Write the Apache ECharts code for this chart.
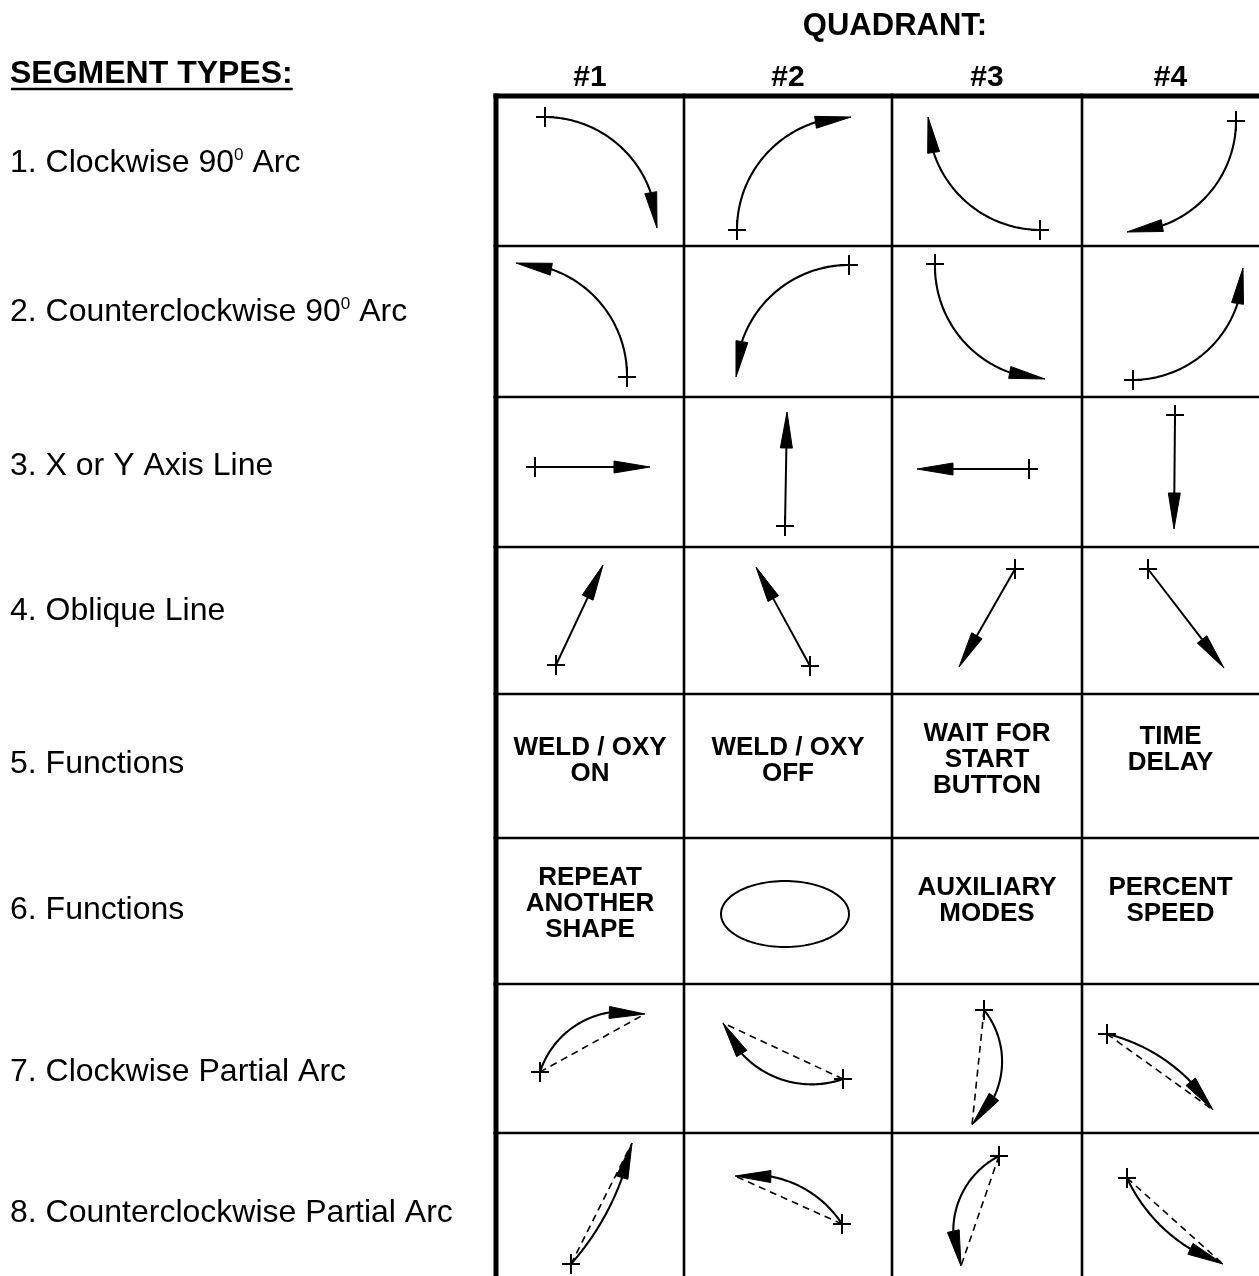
<!DOCTYPE html>
<html>
<head>
<meta charset="utf-8">
<script src="https://cdn.jsdelivr.net/npm/echarts@6/dist/echarts.min.js"></script>
<style>
html,body{margin:0;padding:0;background:#ffffff;}
#chart{width:1259px;height:1276px;}
</style>
</head>
<body>
<div id="chart"></div>
<script>
// ================= DATA =================
const title = 'QUADRANT:';
const quadrants = ['#1', '#2', '#3', '#4'];
const segmentHeading = 'SEGMENT TYPES:';
const segmentTypes = [
  '1. Clockwise 90⁰ Arc',
  '2. Counterclockwise 90⁰ Arc',
  '3. X or Y Axis Line',
  '4. Oblique Line',
  '5. Functions',
  '6. Functions',
  '7. Clockwise Partial Arc',
  '8. Counterclockwise Partial Arc'
];
// table structure, in axis units
const colEdges = [496, 684, 892, 1082, 1259];
const rowEdges = [96, 246, 397, 547, 694, 838, 984, 1133, 1276];
// arcs: [startX, startY, viaX, viaY, endX, endY]  (start = cross, end = arrow tip)
const cw90Arcs = [
  [545, 117, 624, 150, 657, 228],
  [737, 230, 770, 150, 851, 117],
  [1040, 230, 961, 197, 928, 117],
  [1236, 121, 1204, 199, 1127, 232]
];
const ccw90Arcs = [
  [627, 377, 594, 296, 516, 263],
  [849, 265, 769, 298, 736, 377],
  [935, 264, 967, 345, 1045, 379],
  [1133, 380, 1211, 347, 1243, 268]
];
// straight segments: [startX, startY, endX, endY]
const axisLines = [
  [535, 467, 650, 467],
  [785, 526, 787, 412],
  [1029, 469, 917, 469],
  [1175, 415, 1174, 529]
];
const obliqueLines = [
  [556, 665, 603, 565],
  [810, 666, 756, 567],
  [1015, 569, 959, 667],
  [1148, 569, 1224, 668]
];
const functionsA = ['WELD / OXY\nON', 'WELD / OXY\nOFF', 'WAIT FOR\nSTART\nBUTTON', 'TIME\nDELAY'];
const functionsB = ['REPEAT\nANOTHER\nSHAPE', '', 'AUXILIARY\nMODES', 'PERCENT\nSPEED'];
// loop symbol: [centerX, centerY, radiusX, radiusY]
const loopShape = [785, 914, 64, 33];
const cwPartialArcs = [
  [540, 1072, 578, 1024, 645, 1014],
  [843, 1079, 775, 1077, 723, 1023],
  [984, 1010, 1002, 1065, 972, 1125],
  [1107, 1034, 1162, 1058, 1213, 1110]
];
const ccwPartialArcs = [
  [571, 1264, 611, 1204, 632, 1143],
  [842, 1224, 795, 1184, 735, 1176],
  [999, 1156, 955, 1214, 961, 1266],
  [1127, 1178, 1162, 1227, 1223, 1264]
];

// ================= LAYOUT / STYLE =================
const FONT = '"Liberation Sans", Arial, Helvetica, sans-serif';
const layout = {
  titleY: 26, headerY: 78,
  headingX: 10, headingY: 74, underlineY: 89,
  labelX: 10, labelY: [163, 312, 466, 611, 764, 910, 1072, 1213],
  funcAY: [761, 761, 760, 750], funcBY: [904, 0, 901, 901],
  crossHalf: 9, arrowLen: 36, arrowHalf: 6,
  outerWidth: 5, innerWidth: 2.6
};

function colCenter(i) { return (colEdges[i] + colEdges[i + 1]) / 2; }

// ---- table lines built from edges ----
const tableSegs = [];
for (let i = 0; i < colEdges.length - 1; i++) {
  const w = i === 0 ? layout.outerWidth : layout.innerWidth;
  tableSegs.push([colEdges[i], rowEdges[0] - layout.outerWidth / 2, colEdges[i], rowEdges[rowEdges.length - 1], w]);
}
for (let j = 0; j < rowEdges.length - 1; j++) {
  const w = j === 0 ? layout.outerWidth : layout.innerWidth;
  tableSegs.push([colEdges[0] - layout.outerWidth / 2, rowEdges[j], colEdges[colEdges.length - 1], rowEdges[j], w]);
}

// ---- text items ----
const texts = [];
texts.push({ x: colEdges[2] + 3, y: layout.titleY, text: title, size: 31, bold: true, align: 'center' });
quadrants.forEach((q, i) => texts.push({ x: colCenter(i), y: layout.headerY, text: q, size: 30, bold: true, align: 'center' }));
texts.push({ x: layout.headingX, y: layout.headingY, text: segmentHeading, size: 32, bold: true, align: 'left', underline: true });
segmentTypes.forEach((s, i) => texts.push({ x: layout.labelX, y: layout.labelY[i], text: s, size: 32, align: 'left', sup: true }));
functionsA.forEach((s, i) => { if (s) texts.push({ x: colCenter(i), y: layout.funcAY[i], text: s, size: 26, bold: true, align: 'center', lh: 26 }); });
functionsB.forEach((s, i) => { if (s) texts.push({ x: colCenter(i), y: layout.funcBY[i], text: s, size: 26, bold: true, align: 'center', lh: 26 }); });

const arcData = [];
cw90Arcs.forEach(a => arcData.push(a.concat([0])));
ccw90Arcs.forEach(a => arcData.push(a.concat([0])));
cwPartialArcs.forEach(a => arcData.push(a.concat([1])));
ccwPartialArcs.forEach(a => arcData.push(a.concat([1])));
const lineData = axisLines.concat(obliqueLines);

const measureCtx = document.createElement('canvas').getContext('2d');

// ---- helpers ----
function cross(P) {
  const h = layout.crossHalf;
  return [
    { type: 'line', shape: { x1: P[0] - h, y1: P[1], x2: P[0] + h, y2: P[1] }, style: { stroke: '#000', lineWidth: 2 } },
    { type: 'line', shape: { x1: P[0], y1: P[1] - h - 1, x2: P[0], y2: P[1] + h + 1 }, style: { stroke: '#000', lineWidth: 2 } }
  ];
}
function arrowHead(B, E) {
  const dx = E[0] - B[0], dy = E[1] - B[1];
  const L = Math.hypot(dx, dy) || 1;
  const nx = -dy / L * layout.arrowHalf, ny = dx / L * layout.arrowHalf;
  return { type: 'polygon', shape: { points: [[E[0], E[1]], [B[0] + nx, B[1] + ny], [B[0] - nx, B[1] - ny]] }, style: { fill: '#000', stroke: '#000', lineWidth: 1 } };
}
function circle3(A, B, C) {
  const d = 2 * (A[0] * (B[1] - C[1]) + B[0] * (C[1] - A[1]) + C[0] * (A[1] - B[1]));
  const a2 = A[0] * A[0] + A[1] * A[1], b2 = B[0] * B[0] + B[1] * B[1], c2 = C[0] * C[0] + C[1] * C[1];
  const ux = (a2 * (B[1] - C[1]) + b2 * (C[1] - A[1]) + c2 * (A[1] - B[1])) / d;
  const uy = (a2 * (C[0] - B[0]) + b2 * (A[0] - C[0]) + c2 * (B[0] - A[0])) / d;
  return [ux, uy, Math.hypot(A[0] - ux, A[1] - uy)];
}

const chart = echarts.init(document.getElementById('chart'), null, { renderer: 'canvas' });

chart.setOption({
  animation: false,
  backgroundColor: '#ffffff',
  grid: { left: 0, right: 0, top: 0, bottom: 0 },
  xAxis: { type: 'value', min: 0, max: 1259, show: false },
  yAxis: { type: 'value', min: 0, max: 1276, inverse: true, show: false },
  series: [
    {
      name: 'table', type: 'custom', silent: true, data: tableSegs,
      renderItem: (params, api) => {
        const p1 = api.coord([api.value(0), api.value(1)]);
        const p2 = api.coord([api.value(2), api.value(3)]);
        return { type: 'line', shape: { x1: p1[0], y1: p1[1], x2: p2[0], y2: p2[1] }, style: { stroke: '#000', lineWidth: api.value(4) } };
      }
    },
    {
      name: 'arcs', type: 'custom', silent: true, data: arcData,
      renderItem: (params, api) => {
        const S = api.coord([api.value(0), api.value(1)]);
        const V = api.coord([api.value(2), api.value(3)]);
        const E = api.coord([api.value(4), api.value(5)]);
        const chord = api.value(6);
        const c = circle3(S, V, E);
        const cx = c[0], cy = c[1], r = c[2];
        const TAU = Math.PI * 2;
        const nrm = a => ((a % TAU) + TAU) % TAU;
        const a0 = Math.atan2(S[1] - cy, S[0] - cx);
        const a1 = Math.atan2(E[1] - cy, E[0] - cx);
        const av = Math.atan2(V[1] - cy, V[0] - cx);
        const d1 = nrm(a1 - a0), dv = nrm(av - a0);
        const sweep = dv < d1 ? d1 : d1 - TAU;
        const sgn = sweep >= 0 ? 1 : -1;
        const aEnd = a0 + sweep;
        const aBase = aEnd - sgn * layout.arrowLen / r;
        const pts = [];
        const N = 60;
        for (let i = 0; i <= N; i++) {
          const a = a0 + (aBase - a0) * i / N;
          pts.push([cx + r * Math.cos(a), cy + r * Math.sin(a)]);
        }
        const B = [cx + r * Math.cos(aBase), cy + r * Math.sin(aBase)];
        const children = [];
        if (chord) {
          children.push({ type: 'line', shape: { x1: S[0], y1: S[1], x2: E[0], y2: E[1] }, style: { stroke: '#000', lineWidth: 1.6, lineDash: [7, 5] } });
        }
        children.push({ type: 'polyline', shape: { points: pts }, style: { stroke: '#000', lineWidth: 2.1, fill: null } });
        children.push(arrowHead(B, E));
        cross(S).forEach(x => children.push(x));
        return { type: 'group', children };
      }
    },
    {
      name: 'lines', type: 'custom', silent: true, data: lineData,
      renderItem: (params, api) => {
        const S = api.coord([api.value(0), api.value(1)]);
        const E = api.coord([api.value(2), api.value(3)]);
        const dx = E[0] - S[0], dy = E[1] - S[1];
        const L = Math.hypot(dx, dy);
        const B = [E[0] - dx / L * layout.arrowLen, E[1] - dy / L * layout.arrowLen];
        const children = [
          { type: 'line', shape: { x1: S[0], y1: S[1], x2: B[0], y2: B[1] }, style: { stroke: '#000', lineWidth: 2 } },
          arrowHead(B, E)
        ];
        cross(S).forEach(x => children.push(x));
        return { type: 'group', children };
      }
    },
    {
      name: 'loop', type: 'custom', silent: true, data: [loopShape],
      renderItem: (params, api) => {
        const C = api.coord([api.value(0), api.value(1)]);
        const sz = api.size([api.value(2), api.value(3)]);
        const rx = Math.abs(sz[0]), ry = Math.abs(sz[1]);
        const pts = [];
        for (let i = 0; i < 120; i++) {
          const t = i / 120 * Math.PI * 2;
          pts.push([C[0] + rx * Math.cos(t), C[1] + ry * Math.sin(t)]);
        }
        return { type: 'polygon', shape: { points: pts }, style: { stroke: '#000', lineWidth: 2, fill: null } };
      }
    },
    {
      name: 'texts', type: 'custom', silent: true,
      data: texts.map((t, i) => [t.x, t.y, i]),
      renderItem: (params, api) => {
        const t = texts[api.value(2)];
        const p = api.coord([api.value(0), api.value(1)]);
        const weight = t.bold ? 'bold' : 'normal';
        const style = {
          x: p[0], y: p[1], align: t.align, verticalAlign: 'middle', fill: '#000',
          fontFamily: FONT, fontSize: t.size, fontWeight: weight, lineHeight: t.lh || t.size
        };
        if (t.sup && t.text.indexOf('⁰') >= 0) {
          style.text = t.text.split('⁰').map(s => '{n|' + s + '}').join('{s|0}');
          style.rich = {
            n: { fontFamily: FONT, fontSize: t.size, fill: '#000', lineHeight: 32 },
            s: { fontFamily: FONT, fontSize: 17, fill: '#000', lineHeight: 26, verticalAlign: 'top' }
          };
        } else {
          style.text = t.text;
        }
        const children = [{ type: 'text', style }];
        if (t.underline) {
          measureCtx.font = weight + ' ' + t.size + 'px ' + FONT;
          const w = measureCtx.measureText(t.text).width;
          const uy = api.coord([0, layout.underlineY])[1];
          children.push({ type: 'line', shape: { x1: p[0] + 1, y1: uy, x2: p[0] + w, y2: uy }, style: { stroke: '#000', lineWidth: 2.7 } });
        }
        return { type: 'group', children };
      }
    }
  ]
});
</script>
</body>
</html>
